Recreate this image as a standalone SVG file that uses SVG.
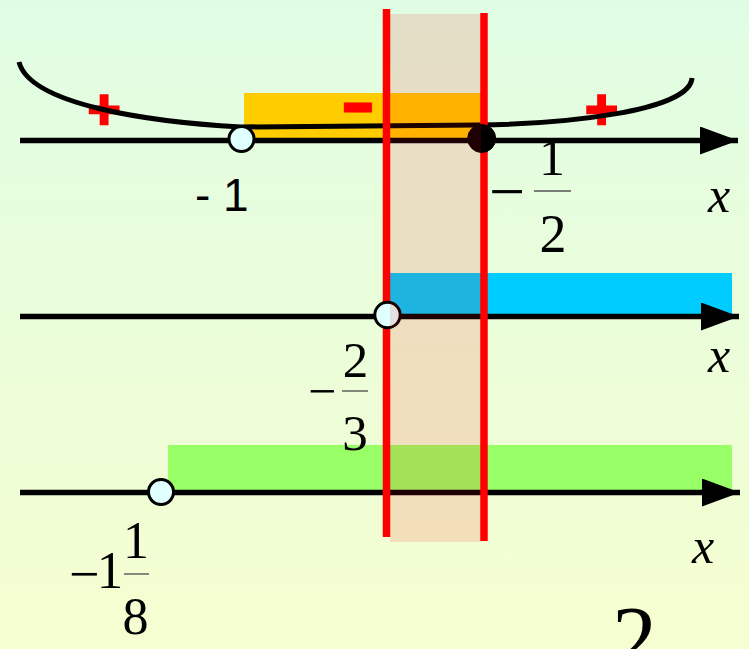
<svg xmlns="http://www.w3.org/2000/svg" width="749" height="649" viewBox="0 0 749 649">
  <defs>
    <linearGradient id="bg" x1="0" y1="0" x2="0" y2="1">
      <stop offset="0" stop-color="#E0FDE4"/>
      <stop offset="1" stop-color="#F5FED0"/>
    </linearGradient>
    <marker id="arrow" markerUnits="userSpaceOnUse" markerWidth="40" markerHeight="30" refX="38" refY="14" orient="auto">
      <path d="M0,0 L38,14 L0,28 Z" fill="#000"/>
    </marker>
    <style>
      .axis { stroke: #000; stroke-width: 5.5; fill: none; }
      .curve { stroke: #000; stroke-width: 5; fill: none; }
      .redline { stroke: #FF0000; stroke-width: 7.5; }
      .open { fill: #E0FFFF; stroke: #000; stroke-width: 3; }
      .closed { fill: #000; stroke: #000; stroke-width: 1; }
      .sans { font-family: "Liberation Sans", Arial, sans-serif; fill: #000; }
      .serif { font-family: "Liberation Serif", "Times New Roman", serif; fill: #000; }
      .var { font-family: "Liberation Serif", "Times New Roman", serif; font-style: italic; fill: #000; font-size: 50px; }
      .sign { font-family: "Liberation Sans", Arial, sans-serif; font-weight: bold; fill: #FF0000; stroke: #FF0000; text-anchor: middle; }
      .bar { stroke: #555; stroke-width: 1.4; }
    </style>
  </defs>

  <rect x="0" y="0" width="749" height="649" fill="url(#bg)"/>

  <!-- solution regions -->
  <g id="regions">
    <rect id="region-negative" x="244" y="93" width="238" height="45" fill="#FFCC00"/>
    <rect id="region-cyan" x="387" y="273" width="345" height="41" fill="#00CCFF"/>
    <rect id="region-green" x="168" y="445" width="564" height="46" fill="#99FF66"/>
  </g>

  <!-- sign markers -->
  <g id="signs">
    <text class="sign" x="104" y="127.5" font-size="56" stroke-width="2.7">+</text>
    <text class="sign" x="601.5" y="127.5" font-size="56" stroke-width="2.7">+</text>
    <text class="sign" x="358" y="123" font-size="46" stroke-width="5">−</text>
  </g>

  <!-- connectors: parabola, axes -->
  <g id="connectors">
    <path id="parabola" class="curve" d="M19,62 C30,105 150,122 241,127 L478,125 C560,124 690,112 692,78"/>
    <line id="axis-1" class="axis" x1="20" y1="140.5" x2="738" y2="140.5" marker-end="url(#arrow)"/>
    <line id="axis-2" class="axis" x1="20" y1="316.5" x2="739" y2="316.5" marker-end="url(#arrow)"/>
    <line id="axis-3" class="axis" x1="20" y1="492.5" x2="740" y2="492.5" marker-end="url(#arrow)"/>
  </g>

  <!-- labels -->
  <g id="label-minus1">
    <text class="sans" x="195" y="211" font-size="46">- 1</text>
  </g>
  <g id="label-minus-half">
    <text class="serif" x="489" y="213" font-size="64">−</text>
    <text class="serif" x="552" y="175" font-size="52" text-anchor="middle">1</text>
    <line class="bar" x1="534" y1="191" x2="571" y2="191"/>
    <text class="serif" x="553" y="252" font-size="54" text-anchor="middle">2</text>
  </g>
  <g id="label-minus-two-thirds">
    <text class="serif" x="308" y="408" font-size="50">−</text>
    <text class="serif" x="355.5" y="377" font-size="51" text-anchor="middle">2</text>
    <line class="bar" x1="342" y1="391" x2="368" y2="391"/>
    <text class="serif" x="355" y="450" font-size="51" text-anchor="middle">3</text>
  </g>
  <g id="label-minus-one-eighth">
    <text class="serif" x="69" y="592" font-size="54">−</text>
    <text class="serif" x="110" y="588" font-size="53" text-anchor="middle">1</text>
    <text class="serif" x="136" y="558" font-size="52" text-anchor="middle">1</text>
    <line class="bar" x1="124" y1="574" x2="149" y2="574"/>
    <text class="serif" x="135.5" y="634" font-size="52" text-anchor="middle">8</text>
  </g>
  <g id="axis-labels">
    <text class="var" x="708" y="212">x</text>
    <text class="var" x="708" y="372">x</text>
    <text class="var" x="692" y="563">x</text>
  </g>
  <g id="label-big-2">
    <text class="serif" x="612" y="669" font-size="90">2</text>
  </g>

  <!-- red boundary lines -->
  <g id="boundaries">
    <line class="redline" x1="386.5" y1="9" x2="386.5" y2="537"/>
    <line class="redline" x1="484" y1="13" x2="484" y2="541"/>
  </g>

  <!-- points -->
  <g id="point-minus1"><circle class="open" cx="241.5" cy="139" r="12.5"/></g>
  <g id="point-minus-half"><circle class="closed" cx="481.7" cy="138.5" r="14"/></g>
  <g id="point-minus-two-thirds"><circle class="open" cx="387.5" cy="315" r="12.7"/></g>
  <g id="point-minus-one-eighth"><circle class="open" cx="161" cy="492" r="12.5"/></g>

  <!-- intersection band -->
  <g id="intersection">
    <rect x="390" y="14" width="91" height="528" fill="#FF0000" fill-opacity="0.12"/>
  </g>
</svg>
